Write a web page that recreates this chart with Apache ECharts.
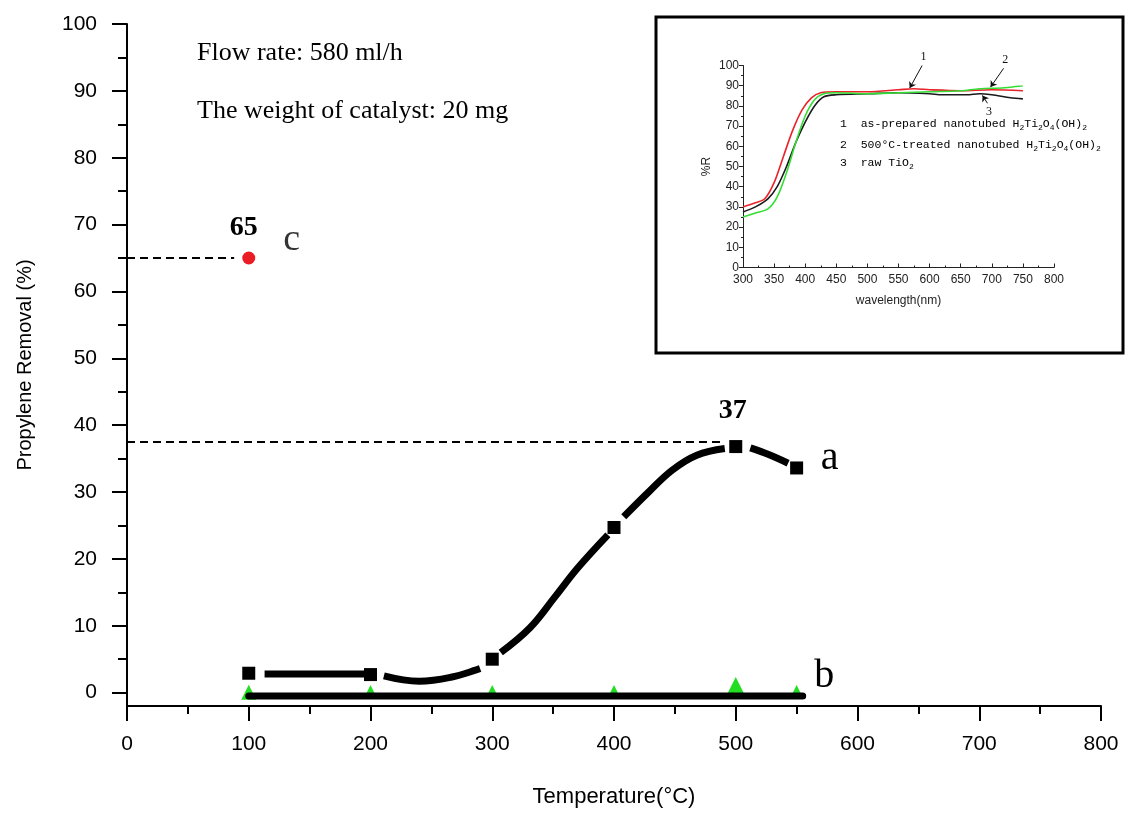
<!DOCTYPE html>
<html>
<head>
<meta charset="utf-8">
<title>Propylene removal</title>
<script src="https://cdn.jsdelivr.net/npm/echarts@6.0.0/dist/echarts.min.js"></script>
<style>
  html, body { margin: 0; padding: 0; background: #fff; }
  #chart { width: 1125px; height: 813px; }
</style>
</head>
<body>
<div id="chart"></div>
<script>
// main plot: propylene removal vs temperature
const tempX = [100, 200, 300, 400, 500, 550]
const removalA = [2.9, 2.7, 5.0, 24.7, 36.8, 33.6]
const removalB = [0.05, 0.3, 0.3, 0.3, 1.0, 0.3]
// the thick fitted curve through a, read piece by piece between markers
const curveA = [
    [[113, 2.8], [195, 2.8]],
    [[211, 2.5], [240, 1.7], [266, 2.3], [290, 3.6]],
    [[307, 6.0], [331, 9.7], [351, 14.2], [370, 18.6], [395, 23.6]],
    [[408, 26.3], [429, 30.1], [448, 33.3], [468, 35.5], [491, 36.5]],
    [[512, 36.6], [527, 35.6], [543, 34.3]]
]
const lineB = [[100, -0.5], [555, -0.5]]
const pointC = [100, 65]
const guideC = [[0, 65], [88, 65]]
const guideA = [[0, 37.5], [490, 37.5]]
const yMajor = [0, 10, 20, 30, 40, 50, 60, 70, 80, 90, 100]
const yMinor = [5, 15, 25, 35, 45, 55, 65, 75, 85, 95]

// inset: diffuse reflectance spectra
const spec1 = [[300, 30], [320, 32], [335, 34], [350, 42], [365, 55], [380, 68], [395, 78], [410, 84], [425, 86.5], [450, 87], [500, 87], [550, 88], [575, 88.5], [600, 88], [650, 87.5], [700, 88], [750, 87.5]]
const spec2 = [[300, 25], [320, 27], [340, 29], [355, 35], [370, 47], [385, 62], [400, 75], [415, 83], [430, 86], [450, 86.5], [500, 86], [550, 86.5], [600, 87], [650, 87.5], [680, 88.5], [720, 89], [750, 90]]
const spec3 = [[300, 27.5], [320, 30], [340, 34], [355, 40], [370, 50], [385, 62], [400, 72], [415, 80], [430, 84.5], [450, 85.5], [500, 86], [550, 86.5], [600, 86], [620, 85.5], [660, 85.5], [680, 86], [700, 85.5], [730, 84], [750, 83.5]]
const arrows = [
    { name: '1', from: [588, 100], to: [568, 88.8] },
    { name: '2', from: [719, 98.6], to: [698, 89.3] },
    { name: '3', from: [693, 81.3], to: [685, 85.2] }
]

const sans = 'Liberation Sans'
const serif = 'Liberation Serif'
const mono = 'Liberation Mono'

const curveData = []
curveA.forEach((seg, i) => {
    if (i > 0) curveData.push([null, null])
    seg.forEach(p => curveData.push(p))
})

const legendRich = {
    t: { fontFamily: mono, fontSize: 11.5, color: '#222', lineHeight: 16, verticalAlign: 'middle' },
    s: { fontFamily: mono, fontSize: 8, color: '#222', lineHeight: 16, verticalAlign: 'bottom' }
}
const legendText = (x, y, txt) => ({
    type: 'text', x, y,
    style: { text: txt, rich: legendRich, verticalAlign: 'middle', textVerticalAlign: 'middle' }
})

const chart = echarts.init(document.getElementById('chart'))
const option = {
    animation: false,
    backgroundColor: '#fff',
    grid: [
        { left: 127, top: 24, width: 974, height: 689 },
        { left: 743, top: 65.5, width: 311, height: 202 }
    ],
    xAxis: [
        {
            type: 'value', gridIndex: 0, min: 0, max: 800, interval: 100,
            name: 'Temperature(°C)', nameLocation: 'middle', nameGap: 80,
            nameTextStyle: { fontFamily: sans, fontSize: 22, color: '#000' },
            axisLine: { onZero: false, lineStyle: { color: '#000', width: 2 } },
            axisTick: { length: 15, lineStyle: { color: '#000', width: 2 } },
            minorTick: { show: true, splitNumber: 2, length: 8, lineStyle: { color: '#000', width: 2 } },
            axisLabel: { fontFamily: sans, fontSize: 21, color: '#000', margin: 28 },
            splitLine: { show: false }
        },
        {
            type: 'value', gridIndex: 1, min: 300, max: 800, interval: 50,
            name: 'wavelength(nm)', nameLocation: 'middle', nameGap: 27,
            nameTextStyle: { fontFamily: sans, fontSize: 12, color: '#222' },
            axisLine: { onZero: false, lineStyle: { color: '#222', width: 1 } },
            axisTick: { inside: true, length: 4, lineStyle: { color: '#222' } },
            minorTick: { show: true, splitNumber: 2, length: 2, lineStyle: { color: '#222' } },
            axisLabel: { fontFamily: sans, fontSize: 12, color: '#222', margin: 6 },
            splitLine: { show: false }
        }
    ],
    yAxis: [
        {
            type: 'value', gridIndex: 0, min: -2, max: 100, position: 'left',
            name: 'Propylene Removal (%)', nameLocation: 'middle', nameGap: 92,
            nameTextStyle: { fontFamily: sans, fontSize: 20, color: '#000' },
            axisLine: { show: true, onZero: false, lineStyle: { color: '#000', width: 2 } },
            axisTick: { show: true, length: 15, customValues: yMajor, lineStyle: { color: '#000', width: 2 } },
            axisLabel: { fontFamily: sans, fontSize: 21, color: '#000', margin: 30, customValues: yMajor },
            splitLine: { show: false }
        },
        {
            type: 'value', gridIndex: 0, min: -2, max: 100, position: 'left', offset: 0,
            axisLine: { show: false, onZero: false },
            axisTick: { show: true, length: 9, customValues: yMinor, lineStyle: { color: '#000', width: 2 } },
            axisLabel: { show: false },
            splitLine: { show: false }
        },
        {
            type: 'value', gridIndex: 1, min: 0, max: 100, interval: 10,
            name: '%R', nameLocation: 'middle', nameGap: 30,
            nameTextStyle: { fontFamily: sans, fontSize: 12, color: '#222' },
            axisLine: { show: true, onZero: false, lineStyle: { color: '#222', width: 1 } },
            axisTick: { show: true, length: 4, lineStyle: { color: '#222' } },
            minorTick: { show: true, splitNumber: 2, length: 2, lineStyle: { color: '#222' } },
            axisLabel: { fontFamily: sans, fontSize: 12, color: '#222', margin: 4 },
            splitLine: { show: false }
        }
    ],
    graphic: [
        {
            type: 'rect', z: 0,
            shape: { x: 656, y: 17, width: 467, height: 336 },
            style: { fill: '#fff', stroke: '#000', lineWidth: 3 }
        },
        {
            type: 'text', x: 197, y: 53,
            style: { text: 'Flow rate: 580 ml/h', font: '26px "Liberation Serif"', fill: '#000', verticalAlign: 'middle', textVerticalAlign: 'middle' }
        },
        {
            type: 'text', x: 197, y: 111,
            style: { text: 'The weight of catalyst: 20 mg', font: '26px "Liberation Serif"', fill: '#000', verticalAlign: 'middle', textVerticalAlign: 'middle' }
        },
        legendText(840, 124, '{t|1  as-prepared nanotubed H}{s|2}{t|Ti}{s|2}{t|O}{s|4}{t|(OH)}{s|2}'),
        legendText(840, 145, '{t|2  500°C-treated nanotubed H}{s|2}{t|Ti}{s|2}{t|O}{s|4}{t|(OH)}{s|2}'),
        legendText(840, 163, '{t|3  raw TiO}{s|2}')
    ],
    series: [
        {
            name: 'guide c', type: 'line', data: guideC, symbol: 'none', silent: true,
            lineStyle: { color: '#000', width: 2, type: [8, 5] }
        },
        {
            name: 'guide a', type: 'line', data: guideA, symbol: 'none', silent: true,
            lineStyle: { color: '#000', width: 2, type: [8, 5] }
        },
        {
            name: 'a curve', type: 'line', data: curveData, smooth: 0.4, symbol: 'none',
            connectNulls: false, silent: true, z: 3,
            lineStyle: { color: '#000', width: 7 }
        },
        {
            name: 'a', type: 'scatter', data: tempX.map((x, i) => [x, removalA[i]]),
            symbol: 'rect', symbolSize: 13, silent: true, z: 4,
            itemStyle: { color: '#000', opacity: 1 },
            label: {
                show: true, color: '#000',
                formatter: p => p.dataIndex === 4 ? '{n|37}' : p.dataIndex === 5 ? '{l|a}' : '',
                position: 'top',
                rich: {
                    n: { fontFamily: serif, fontSize: 28, fontWeight: 'bold', color: '#000', padding: [0, 6, 10, 0] },
                    l: { fontFamily: serif, fontSize: 40, color: '#000', padding: [0, 0, 0, 0] }
                }
            },
            labelLayout: p => p.dataIndex === 5 ? { dx: 33, dy: 22 } : null
        },
        {
            name: 'b', type: 'scatter', data: tempX.map((x, i) => [x, removalB[i]]),
            symbol: 'triangle', silent: true, z: 2,
            symbolSize: (v, p) => p.dataIndex === 4 ? 18 : (p.dataIndex === 0 ? 15 : 11),
            itemStyle: { color: '#22dd22', opacity: 1 },
            label: {
                show: true, position: 'right', distance: 12,
                formatter: p => p.dataIndex === 5 ? 'b' : '',
                fontFamily: serif, fontSize: 40, color: '#000', offset: [0, -14]
            }
        },
        {
            name: 'b line', type: 'line', data: lineB, symbol: 'none', silent: true, z: 3,
            lineStyle: { color: '#000', width: 7, cap: 'round' }
        },
        {
            name: 'c', type: 'scatter', data: [pointC], symbol: 'circle', symbolSize: 13,
            silent: true, z: 4, itemStyle: { color: '#ea1c24', opacity: 1 },
            label: {
                show: true, position: 'top', formatter: '65', distance: 10,
                fontFamily: serif, fontSize: 28, fontWeight: 'bold', color: '#000', offset: [-5, 0]
            }
        },
        {
            name: 'c tag', type: 'scatter', data: [pointC], symbolSize: 1, silent: true,
            itemStyle: { color: 'rgba(0,0,0,0)' },
            label: {
                show: true, position: 'right', formatter: 'c', distance: 34,
                fontFamily: serif, fontSize: 38, color: '#000', offset: [0, -18]
            }
        },
        {
            name: '3', type: 'line', xAxisIndex: 1, yAxisIndex: 2, data: spec3, smooth: 0.3,
            symbol: 'none', silent: true, lineStyle: { color: '#1a1a1a', width: 1.6 }
        },
        {
            name: '1', type: 'line', xAxisIndex: 1, yAxisIndex: 2, data: spec1, smooth: 0.3,
            symbol: 'none', silent: true, lineStyle: { color: '#e8232a', width: 1.6 }
        },
        {
            name: '2', type: 'line', xAxisIndex: 1, yAxisIndex: 2, data: spec2, smooth: 0.3,
            symbol: 'none', silent: true, lineStyle: { color: '#33dd33', width: 1.6 },
            markLine: {
                silent: true, symbol: ['none', 'arrow'], symbolSize: 6,
                lineStyle: { color: '#111', width: 1, type: 'solid' },
                label: {
                    show: true, position: 'start', distance: 3, formatter: '{b}',
                    fontFamily: serif, fontSize: 12, color: '#111'
                },
                data: arrows.map(a => [
                    { name: a.name, coord: a.from },
                    { coord: a.to }
                ])
            }
        }
    ]
}
chart.setOption(option)
</script>
</body>
</html>
